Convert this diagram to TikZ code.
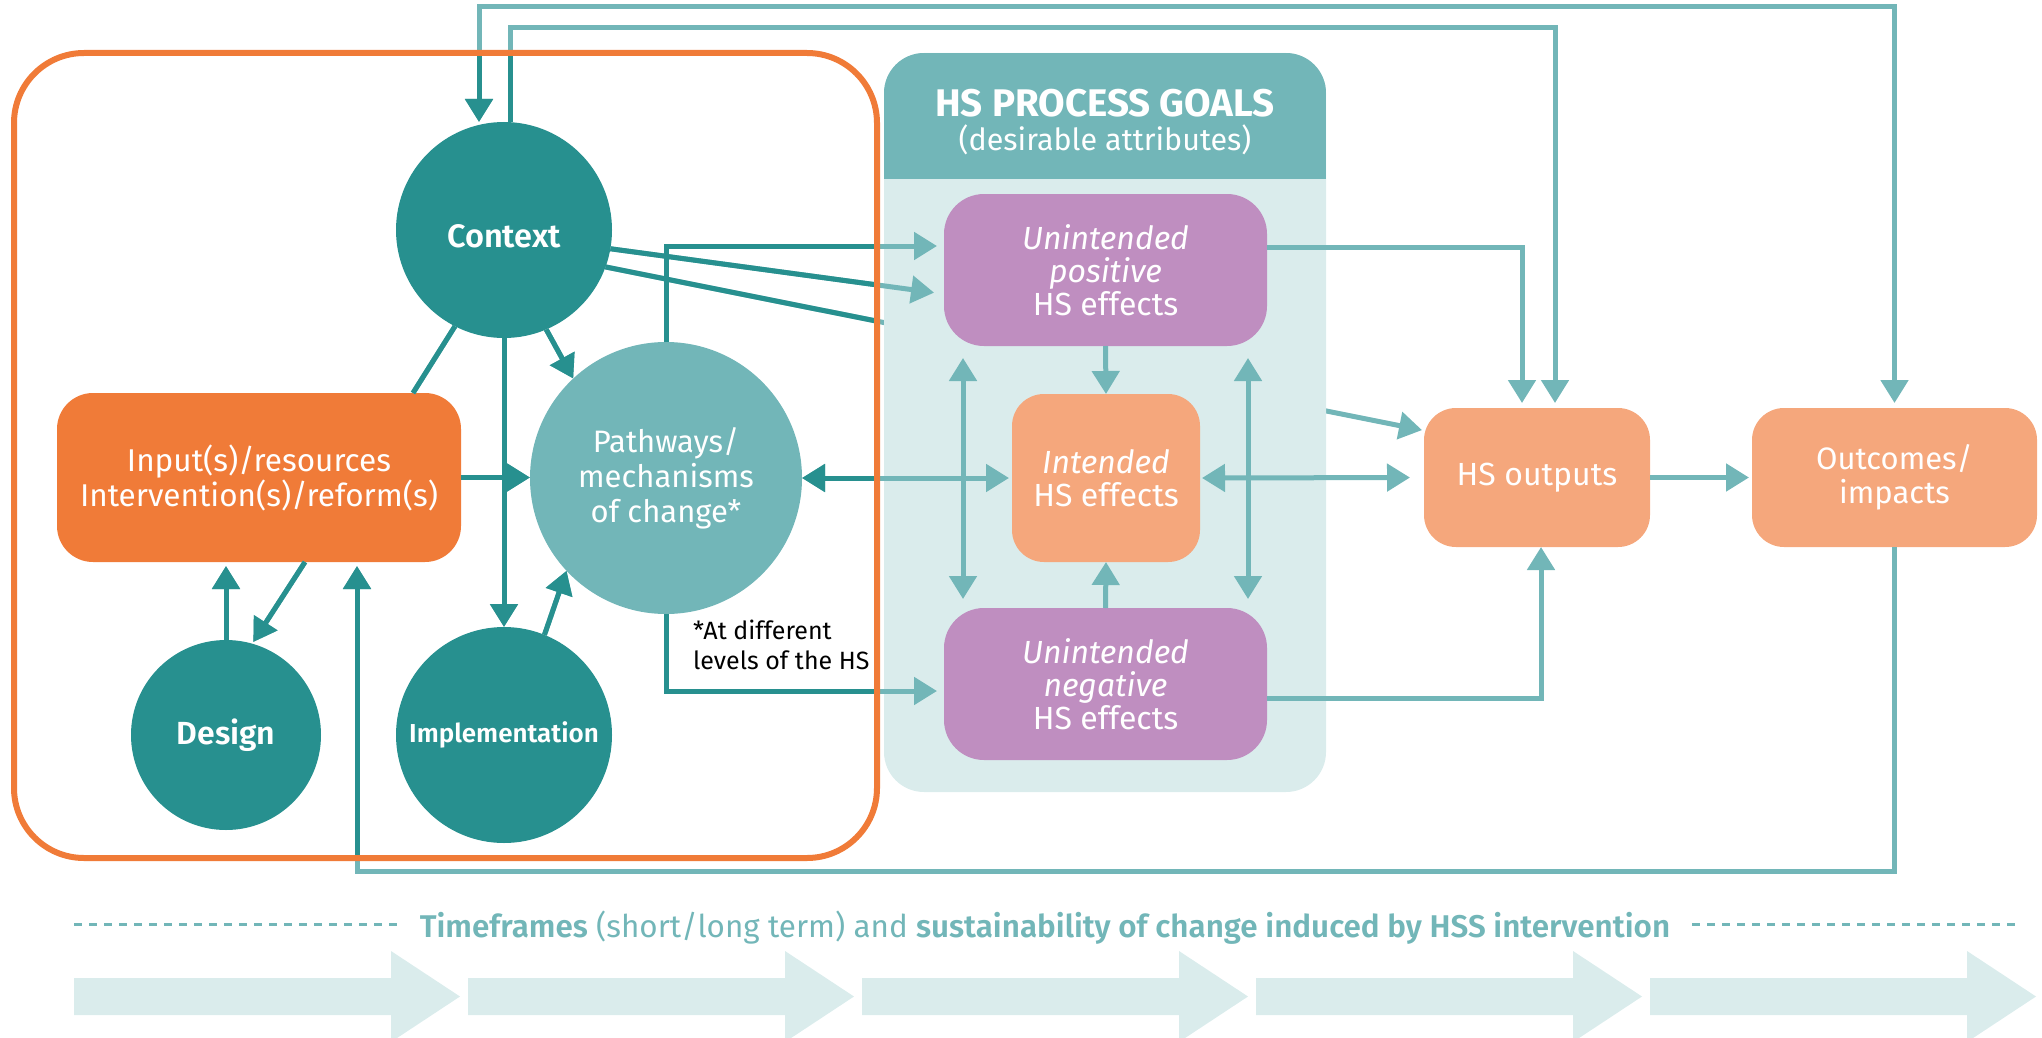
\documentclass[tikz,border=0pt]{standalone}
\usepackage{fontspec}
\setmainfont{Fira Sans}[BoldFont={Fira Sans SemiBold},BoldItalicFont={Fira Sans SemiBold Italic}]
\newfontface\headfont{Fira Sans Bold}
\usetikzlibrary{arrows.meta,calc}
\pgfdeclarelayer{back}
\pgfsetlayers{back,main}

\definecolor{dk}{HTML}{27908F}
\definecolor{lt}{HTML}{72B6B8}
\definecolor{ltbg}{HTML}{DAECEC}
\definecolor{org}{HTML}{F07B38}
\definecolor{lorg}{HTML}{F5A77C}
\definecolor{purp}{HTML}{BF8EC0}

\tikzset{
  conn/.style={line width=5pt, draw=lt},
  blob/.style={circle, inner sep=0pt, outer sep=0pt, text=white, align=center},
  box/.style={rectangle, rounded corners=36pt, inner sep=0pt, outer sep=0pt, text=white, align=center},
  tdash/.style={lt, line width=3pt, dash pattern=on 8pt off 7pt},
}

% lines are light outside the frame, dark inside it
\newcommand\twotone[1]{#1%
  \begin{scope}
    \clip[rounded corners=70pt] (14,53) rectangle (877,858);
    \tikzset{conn/.append style={draw=dk}}#1
  \end{scope}}

\begin{document}
\begin{tikzpicture}[x=1pt, y=-1pt, >={Triangle[width=27pt,length=23pt]}]
  \useasboundingbox (0,0) rectangle (2042,1038);

  % process goals panel
  \fill[ltbg, rounded corners=40pt] (884,53) rectangle (1326,792);
  \begin{scope}
    \clip[rounded corners=40pt] (884,53) rectangle (1326,792);
    \fill[lt] (884,53) rectangle (1326,179);
  \end{scope}
  \node[anchor=base, text=white, inner sep=0pt, font=\headfont\fontsize{38.5}{42}\selectfont] (goals) at (1105,117) {HS PROCESS GOALS};
  \node[anchor=base, text=white, inner sep=0pt, font=\fontsize{30.5}{34}\selectfont] (goalsub) at (1105,150) {(desirable attributes)};

  % nodes
  \node[blob, fill=dk, minimum size=216pt, font=\bfseries\fontsize{32.5}{36}\selectfont] (ctx) at (504,230) {\raisebox{-6pt}[\height][0pt]{Context}};
  \node[blob, fill=lt, minimum size=272pt, font=\fontsize{31}{35}\selectfont] (pw) at (666,478) {Pathways/\\mechanisms\\of change*};
  \node[box, fill=org, minimum width=404pt, minimum height=169pt, font=\fontsize{31.5}{35}\selectfont] (input) at (259,477.5) {Input(s)/resources\\Intervention(s)/reform(s)};
  \node[blob, fill=dk, minimum size=190pt, font=\bfseries\fontsize{32}{36}\selectfont] (dsg) at (226,735) {Design};
  \node[blob, fill=dk, minimum size=216pt, font=\bfseries\fontsize{26}{30}\selectfont] (impl) at (504,735) {Implementation};
  \node[box, rounded corners=40pt, fill=purp, minimum width=323pt, minimum height=152pt, font=\fontsize{32}{33}\selectfont] (up) at (1105.5,270) {\textit{Unintended}\\\textit{positive}\\HS effects};
  \node[box, rounded corners=32pt, fill=lorg, minimum width=188pt, minimum height=168pt, font=\fontsize{32}{33}\selectfont] (int) at (1106,478) {\textit{Intended}\\HS effects};
  \node[box, rounded corners=40pt, fill=purp, minimum width=323pt, minimum height=152pt, font=\fontsize{32}{33}\selectfont] (un) at (1105.5,684) {\textit{Unintended}\\\textit{negative}\\HS effects};
  \node[box, rounded corners=32pt, fill=lorg, minimum width=226pt, minimum height=139pt, font=\fontsize{32}{33}\selectfont] (hsout) at (1537,477.5) {HS outputs};
  \node[box, rounded corners=32pt, fill=lorg, minimum width=285pt, minimum height=139pt, font=\fontsize{31}{34}\selectfont] (outc) at (1894.5,477.5) {Outcomes/\\impacts};
  \node[anchor=north west, align=left, inner sep=0pt, font=\fontsize{25}{30}\selectfont] (note) at (693,620) {*At different\\levels of the HS};

  % line behind the panel
  \begin{pgfonlayer}{back}
    \twotone{\draw[conn,->,shorten >=2pt] (ctx.-20) -- ($(hsout.west)+(0,-47)$);}
  \end{pgfonlayer}

  % connectors
  \twotone{%
    \draw[conn,->,shorten >=10pt] (ctx.-10) -- ($(up.west)+(0,24)$);
    \draw[conn,->,shorten >=7pt] (pw.north) |- ($(up.west)+(0,-24)$);
    \draw[conn,->] (ctx.-67) -- (pw.133);
    \draw[conn,->] (ctx.south) -- (impl.north);
    \draw[conn] (ctx.243) -- ($(input.north east)+(-48,0)$);
    \draw[conn,->] (input.east) -- (input.east -| pw.west);
    \draw[conn,->,shorten >=4pt] (dsg.north) -- (dsg.north |- input.south);
    \draw[conn,->,shorten >=2pt] ($(input.south)+(46,0)$) -- (dsg.74);
    \draw[conn,->] (impl.68) -- (pw.223);
    \draw[conn,<->,shorten >=3pt] (int.west -| pw.east) -- (int.west);
    \draw[conn,<->,shorten <=2pt,shorten >=14pt] (int.east) -- (hsout.west);
    \draw[conn,->,shorten >=3pt] (hsout.east) -- (outc.west);
    \draw[conn,->] (up.south) -- (int.north);
    \draw[conn,->] (un.north) -- (int.south);
    \draw[conn,<->,shorten <=12pt,shorten >=9pt] ($(up.south west)+(19,0)$) -- ($(un.north west)+(19,0)$);
    \draw[conn,<->,shorten <=12pt,shorten >=9pt] ($(up.south east)+(-19,0)$) -- ($(un.north east)+(-19,0)$);
    \draw[conn,->,shorten >=5pt] ($(up.east)+(0,-23)$) -| ($(hsout.north)+(-15,0)$);
    \draw[conn,->,shorten >=5pt] ([xshift=6pt]ctx.north) -- ++(0,-94) -| ($(hsout.north)+(18,0)$);
    \draw[conn,<->,shorten <=5pt,shorten >=3pt] (outc.north) -- ++(0,-401) -| ($(ctx.north)+(-25,3)$);
    \draw[conn,->,shorten >=4pt] (outc.south) -- ++(0,324) -| ($(input.south)+(98,0)$);
    \draw[conn,->] ($(un.east)+(0,14)$) -| ($(hsout.south)+(4,0)$);
    \draw[conn,->,shorten >=7pt] (pw.south) |- ($(un.west)+(0,7)$);
  }

  % frame round the intervention part
  \draw[org, line width=6pt, rounded corners=70pt] (14,53) rectangle (877,858);

  % time line
  \node[anchor=base, inner sep=0pt, text=lt, font=\fontsize{31.4}{36}\selectfont] (time) at (1045,937) {\textbf{Timeframes} (short/long term) and \textbf{sustainability of change induced by HSS intervention}};
  \draw[tdash] (74,924) -- (397,924);
  \draw[tdash] (1692,924) -- (2017,924);
  \foreach \i [evaluate=\i as \xa using 74+394*\i] in {0,...,4}
    \fill[ltbg] (\xa,978) -- ++(317,0) -- ++(0,-27) -- ++(69,45.5) -- ++(-69,45.5) -- ++(0,-27) -- ++(-317,0) -- cycle;
\end{tikzpicture}
\end{document}
